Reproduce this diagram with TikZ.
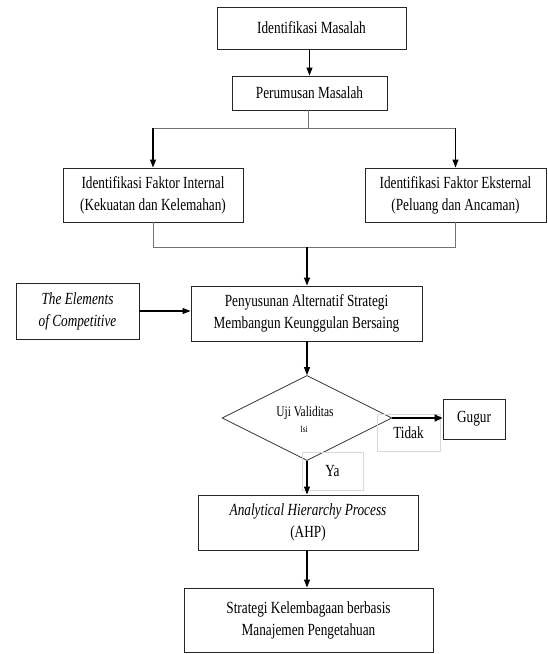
\documentclass[tikz,border=0pt]{standalone}
\usepackage{fontspec}
\setmainfont[FakeStretch=0.78]{Liberation Serif}
\usetikzlibrary{arrows.meta,shapes.geometric}
\newcommand\mainfs{\fontsize{17}{22}\selectfont}
\newcommand\smallfs{\fontsize{14.6}{16}\selectfont}
\newcommand\tinyfs{\fontsize{9.5}{10}\selectfont}
\begin{document}
\begin{tikzpicture}[x=1pt,y=-1pt,
  box/.style={draw=black!85, line width=0.9pt, rectangle, inner sep=0pt,
    align=center, font=\mainfs},
  labelbox/.style={draw=black!15, line width=0.8pt, rectangle, inner sep=0pt,
    align=center, font=\mainfs},
  decision/.style={draw=black!80, line width=0.8pt, diamond, inner sep=0pt,
    minimum width=170pt, minimum height=85pt},
  arr/.style={draw=black, line width=1.1pt, -{Triangle[length=8pt,width=6pt]}},
  thickarr/.style={draw=black, line width=1.8pt, -{Triangle[length=8pt,width=7pt]}},
  link/.style={draw=black!55, line width=1pt}
]
\useasboundingbox (0,0) rectangle (547,654);

% process boxes
\node[box, minimum width=189pt, minimum height=42pt] (im) at (311.5,28) {Identifikasi Masalah};
\node[box, minimum width=155pt, minimum height=34pt] (pm) at (309.5,93) {Perumusan Masalah};
\node[box, minimum width=180pt, minimum height=54pt] (fi) at (153,195)
  {Identifikasi Faktor Internal\\(Kekuatan dan Kelemahan)};
\node[box, minimum width=181pt, minimum height=54pt] (fe) at (455.5,195)
  {Identifikasi Faktor Eksternal\\(Peluang dan Ancaman)};
\node[box, minimum width=123pt, minimum height=56pt, font=\mainfs\itshape] (el) at (77.5,311)
  {The Elements\\of Competitive};
\node[box, minimum width=231pt, minimum height=55pt] (ps) at (306.5,313.5)
  {Penyusunan Alternatif Strategi\\Membangun Keunggulan Bersaing};
\node[decision] (uji) at (307,418) {};
\node[font=\smallfs, inner sep=0pt] (ujitxt) at (305,413) {Uji Validitas};
\node[font=\tinyfs, inner sep=0pt] (isi) at (304,429) {Isi};
\node[box, minimum width=62pt, minimum height=40pt] (gugur) at (474,419) {Gugur};
\node[box, minimum width=220pt, minimum height=55pt] (ahp) at (308,522.5)
  {\textit{Analytical Hierarchy Process}\\(AHP)};
\node[box, minimum width=249pt, minimum height=64pt] (sk) at (308.5,620)
  {Strategi Kelembagaan berbasis\\Manajemen Pengetahuan};

% branch labels
\node[labelbox, minimum width=63pt, minimum height=37pt] (tidak) at (408.5,432.5) {\raisebox{-3pt}{Tidak}};
\node[labelbox, minimum width=61pt, minimum height=38pt] (ya) at (332.5,471) {Ya};

% split below the problem statement
\coordinate (split) at (308,128);
\draw[link] (pm.south -| split) -- (split);
\draw[link] (fi.north |- split) -- (fe.north |- split);
\draw[arr] (fi.north |- split) -- (fi.north);
\draw[arr] (fe.north |- split) -- (fe.north);

% join of the two factor boxes
\coordinate (join) at (307,247);
\draw[link] (fi.south) -- (fi.south |- join) -- (fe.south |- join) -- (fe.south);
\draw[arr] (join) -- (join |- ps.north);

% main flow
\draw[arr] (pm.north |- im.south) -- (pm.north);
\draw[arr] (el.east) -- (el.east -| ps.west);
\draw[arr] (ps.south -| uji.north) -- (uji.north);
\draw[thickarr] (uji.east) -- (uji.east -| gugur.west);
\draw[arr] (uji.south) -- (uji.south |- ahp.north);
\draw[arr] (ahp.south -| uji.south) -- (uji.south |- sk.north);
\end{tikzpicture}
\end{document}
